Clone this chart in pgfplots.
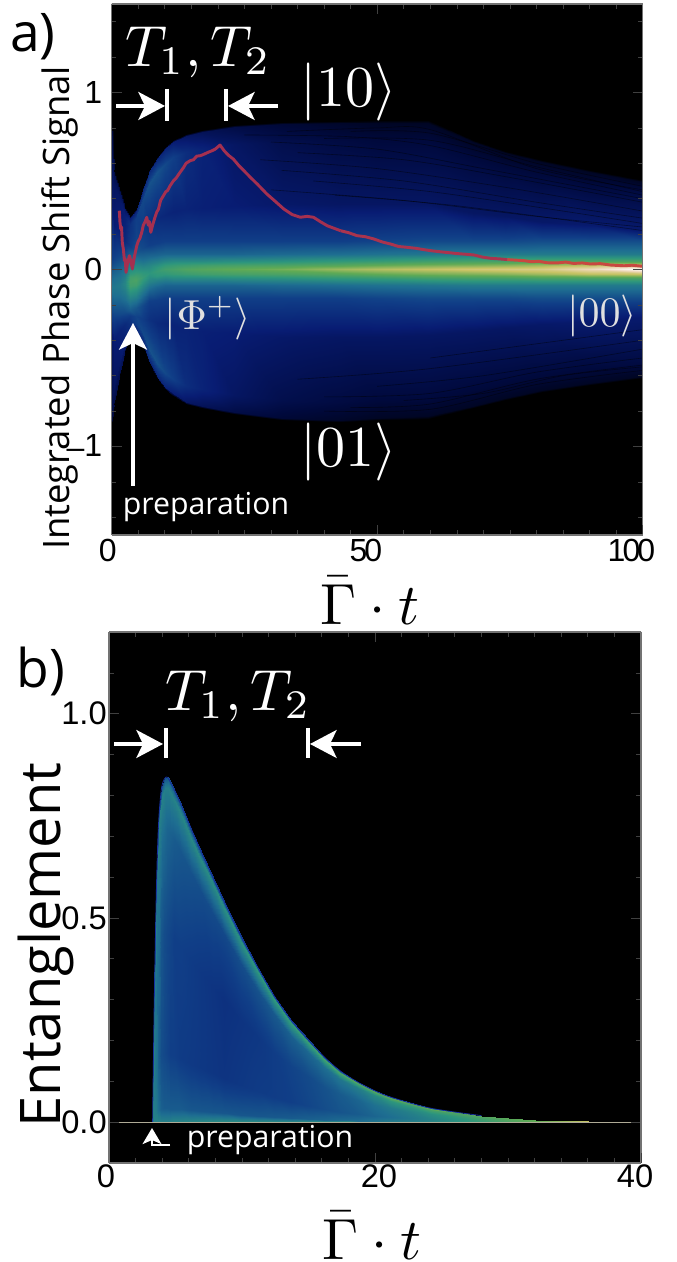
\documentclass[border=0pt]{standalone}
\usepackage[no-math]{fontspec}
\usepackage{pgfplots}
\pgfplotsset{compat=1.18}
\usetikzlibrary{arrows.meta}
\newfontfamily\labfont{Open Sans}
\newfontfamily\tickfont[LetterSpace=-9]{Liberation Sans}
\newfontfamily\tickfontb{Liberation Sans}
\definecolor{redl}{RGB}{165,48,80}
\definecolor{redr}{RGB}{200,72,64}
\pgfplotsset{
  heat/.style={colormap={q}{rgb255(0)=(0,0,0) rgb255(1)=(0,9,60) rgb255(2)=(8,28,115) rgb255(3)=(16,62,135) rgb255(4)=(30,110,145) rgb255(5)=(45,150,125) rgb255(6)=(95,170,85) rgb255(7)=(200,195,100) rgb255(8)=(238,215,185) rgb255(9)=(255,255,255)},
    point meta min=0,point meta max=9},
  common/.style={scale only axis,view={0}{90},axis background/.style={fill=black},
    axis line style={draw=black!55,line width=0.8pt},
    tick style={draw=black!75,line width=0.5pt},
    tick align=inside,
    major tick length=7.5pt,minor tick length=3.5pt,
    /pgf/number format/assume math mode=true,
    enlargelimits=false,heat},
  streak/.style={black,opacity=.45,line width=.45pt,smooth},
}
\begin{document}
\begin{tikzpicture}
\path[use as bounding box] (0,0) rectangle (507.75pt,946.5pt);
\begin{axis}[common,at={(83.775pt,545.25pt)},anchor=south west,width=398.25pt,height=398.25pt,
  xmin=0,xmax=100,ymin=-1.5,ymax=1.5,
  xtick={0,50,100},minor xtick={5,10,...,95},
  xticklabels={\hspace*{11pt}0,50,100},
  ytick={-1,0,1},minor ytick={-1.4,-1.2,-.8,-.6,-.4,-.2,.2,.4,.6,.8,1.2,1.4},
  yticklabels={\raisebox{-1.5pt}{–}1,0,1},
  ticklabel style={font=\fontsize{24}{26}\tickfont},
  xticklabel style={xshift=-8.5pt,inner sep=0pt,yshift=-3pt},
  yticklabel style={inner sep=0pt,xshift=-7pt},
  xlabel={$\bar{\Gamma}\cdot t$},ylabel={Integrated Phase Shift Signal},
  every axis x label/.style={at={(axis description cs:0.486,-0.124)},anchor=center,scale=4.35},
  every axis y label/.style={at={(axis description cs:-0.098,0.4275)},anchor=center,rotate=90,font=\fontsize{27.3}{30}\labfont},
]
\addplot3[surf,shader=interp,mesh/ordering=x varies,mesh/cols=17,point meta=z] table[row sep=\\]{
x y m\\
0 -.862 0\\ 0 -.85 1\\ 0 -.75 1.3\\ 0 -.38 1.8\\ 0 -.26 3\\ 0 -.19 3.6\\ 0 -.15 3.9\\ 0 -.125 4.1\\ 0 -.1 4.2\\ 0 -.075 4.1\\ 0 -.05 3.9\\ 0 -.01 3.6\\ 0 .06 3\\ 0 .38 1.8\\ 0 .75 1.3\\ 0 .85 1\\ 0 .862 0\\
.4 -.762 0\\ .4 -.75 1.2\\ .4 -.66 1.6\\ .4 -.40 2\\ .4 -.26 3.1\\ .4 -.19 3.7\\ .4 -.15 4\\ .4 -.125 4.1\\ .4 -.1 4.2\\ .4 -.075 4.1\\ .4 -.05 4\\ .4 -.01 3.7\\ .4 .06 3.1\\ .4 .25 2\\ .4 .484 1.6\\ .4 .55 1.2\\ .4 .562 0\\
1.5 -.592 0\\ 1.5 -.58 1.4\\ 1.5 -.51 1.8\\ 1.5 -.34 2.2\\ 1.5 -.25 3.2\\ 1.5 -.18 3.8\\ 1.5 -.14 4.1\\ 1.5 -.115 4.2\\ 1.5 -.09 4.3\\ 1.5 -.065 4.2\\ 1.5 -.04 4.1\\ 1.5 0 3.8\\ 1.5 .07 3.2\\ 1.5 .2 2.2\\ 1.5 .387 1.8\\ 1.5 .44 1.4\\ 1.5 .452 0\\
2.5 -.462 0\\ 2.5 -.45 1.6\\ 2.5 -.40 2.1\\ 2.5 -.31 2.4\\ 2.5 -.24 3.3\\ 2.5 -.17 4\\ 2.5 -.13 4.3\\ 2.5 -.105 4.5\\ 2.5 -.08 4.6\\ 2.5 -.055 4.5\\ 2.5 -.03 4.3\\ 2.5 .01 4\\ 2.5 .08 3.3\\ 2.5 .16 2.4\\ 2.5 .30 2.1\\ 2.5 .34 1.6\\ 2.5 .352 0\\
3.5 -.352 0\\ 3.5 -.34 2\\ 3.5 -.30 2.6\\ 3.5 -.26 2.9\\ 3.5 -.23 3.6\\ 3.5 -.16 4.5\\ 3.5 -.12 5\\ 3.5 -.095 5.4\\ 3.5 -.07 5.5\\ 3.5 -.045 5.4\\ 3.5 -.02 5\\ 3.5 .02 4.5\\ 3.5 .09 3.6\\ 3.5 .13 2.9\\ 3.5 .255 2.6\\ 3.5 .29 2\\ 3.5 .302 0\\
4.5 -.352 0\\ 4.5 -.34 2.2\\ 4.5 -.30 3\\ 4.5 -.26 3.1\\ 4.5 -.22 3.5\\ 4.5 -.15 4.5\\ 4.5 -.11 5\\ 4.5 -.085 5.4\\ 4.5 -.06 5.6\\ 4.5 -.035 5.4\\ 4.5 -.01 5\\ 4.5 .03 4.5\\ 4.5 .10 3.5\\ 4.5 .17 3.1\\ 4.5 .29 3\\ 4.5 .33 2.2\\ 4.5 .342 0\\
5.9 -.422 0\\ 5.9 -.41 2.3\\ 5.9 -.36 3.2\\ 5.9 -.28 2.9\\ 5.9 -.20 3.2\\ 5.9 -.13 4.1\\ 5.9 -.09 4.7\\ 5.9 -.065 5\\ 5.9 -.04 5.2\\ 5.9 -.015 5\\ 5.9 .01 4.7\\ 5.9 .05 4.1\\ 5.9 .12 3.2\\ 5.9 .22 2.9\\ 5.9 .40 3.2\\ 5.9 .455 2.3\\ 5.9 .467 0\\
7 -.522 0\\ 7 -.51 2.4\\ 7 -.449 3.4\\ 7 -.28 2.6\\ 7 -.18 3\\ 7 -.11 3.9\\ 7 -.07 4.5\\ 7 -.045 4.8\\ 7 -.02 5\\ 7 .005 4.8\\ 7 .03 4.5\\ 7 .07 3.9\\ 7 .14 3\\ 7 .26 2.6\\ 7 .484 3.4\\ 7 .55 2.4\\ 7 .562 0\\
8.5 -.612 0\\ 8.5 -.60 2.3\\ 8.5 -.528 3.4\\ 8.5 -.30 2.4\\ 8.5 -.17 3\\ 8.5 -.10 3.8\\ 8.5 -.06 4.5\\ 8.5 -.035 5\\ 8.5 -.01 5.2\\ 8.5 .015 5\\ 8.5 .04 4.5\\ 8.5 .08 3.8\\ 8.5 .15 3\\ 8.5 .29 2.4\\ 8.5 .55 3.4\\ 8.5 .625 2.3\\ 8.5 .637 0\\
10 -.677 0\\ 10 -.665 2.2\\ 10 -.585 3.2\\ 10 -.30 2.3\\ 10 -.16 3\\ 10 -.09 3.8\\ 10 -.05 4.6\\ 10 -.025 5.1\\ 10 0 5.4\\ 10 .025 5.1\\ 10 .05 4.6\\ 10 .09 3.8\\ 10 .16 3\\ 10 .31 2.3\\ 10 .598 3.2\\ 10 .68 2.2\\ 10 .692 0\\
11.6 -.712 0\\ 11.6 -.70 2\\ 11.6 -.616 3\\ 11.6 -.315 2.2\\ 11.6 -.16 3\\ 11.6 -.09 3.8\\ 11.6 -.05 4.7\\ 11.6 -.025 5.2\\ 11.6 0 5.5\\ 11.6 .025 5.2\\ 11.6 .05 4.7\\ 11.6 .09 3.8\\ 11.6 .16 3\\ 11.6 .325 2.2\\ 11.6 .634 3\\ 11.6 .72 2\\ 11.6 .732 0\\
14 -.762 0\\ 14 -.75 1.7\\ 14 -.66 2.5\\ 14 -.34 2.2\\ 14 -.16 3\\ 14 -.09 3.8\\ 14 -.05 4.7\\ 14 -.025 5.3\\ 14 0 5.7\\ 14 .025 5.3\\ 14 .05 4.7\\ 14 .09 3.8\\ 14 .16 3\\ 14 .34 2.2\\ 14 .664 2.5\\ 14 .755 1.7\\ 14 .767 0\\
17 -.782 0\\ 17 -.77 1.5\\ 17 -.678 2.2\\ 17 -.35 2.1\\ 17 -.16 3\\ 17 -.09 3.8\\ 17 -.05 4.7\\ 17 -.025 5.4\\ 17 0 5.8\\ 17 .025 5.4\\ 17 .05 4.7\\ 17 .09 3.8\\ 17 .16 3\\ 17 .35 2.1\\ 17 .682 2.2\\ 17 .775 1.5\\ 17 .787 0\\
23 -.817 0\\ 23 -.805 1.2\\ 23 -.708 1.7\\ 23 -.36 2\\ 23 -.16 3\\ 23 -.09 3.8\\ 23 -.05 4.8\\ 23 -.025 5.5\\ 23 0 6\\ 23 .025 5.5\\ 23 .05 4.8\\ 23 .09 3.8\\ 23 .16 3\\ 23 .36 2\\ 23 .708 1.7\\ 23 .805 1.2\\ 23 .817 0\\
32 -.852 0\\ 32 -.84 .9\\ 32 -.739 1.3\\ 32 -.38 1.8\\ 32 -.16 3\\ 32 -.09 3.9\\ 32 -.05 4.9\\ 32 -.025 5.6\\ 32 0 6.2\\ 32 .025 5.6\\ 32 .05 4.9\\ 32 .09 3.9\\ 32 .16 3\\ 32 .37 1.8\\ 32 .722 1.3\\ 32 .82 .9\\ 32 .832 0\\
43 -.862 0\\ 43 -.85 .7\\ 43 -.748 1.1\\ 43 -.38 1.7\\ 43 -.16 3\\ 43 -.09 4\\ 43 -.05 5.1\\ 43 -.025 5.8\\ 43 0 6.6\\ 43 .025 5.8\\ 43 .05 5.1\\ 43 .09 4\\ 43 .16 3\\ 43 .37 1.7\\ 43 .726 1.1\\ 43 .825 .7\\ 43 .837 0\\
50 -.852 0\\ 50 -.84 .6\\ 50 -.739 1\\ 50 -.38 1.7\\ 50 -.16 3.1\\ 50 -.09 4.1\\ 50 -.05 5.2\\ 50 -.025 6\\ 50 0 6.8\\ 50 .025 6\\ 50 .05 5.2\\ 50 .09 4.1\\ 50 .16 3.1\\ 50 .37 1.7\\ 50 .73 1\\ 50 .83 .6\\ 50 .842 0\\
59.5 -.842 0\\ 59.5 -.83 .6\\ 59.5 -.73 1\\ 59.5 -.37 1.7\\ 59.5 -.16 3.2\\ 59.5 -.09 4.2\\ 59.5 -.05 5.4\\ 59.5 -.025 6.2\\ 59.5 0 7\\ 59.5 .025 6.2\\ 59.5 .05 5.4\\ 59.5 .09 4.2\\ 59.5 .16 3.2\\ 59.5 .37 1.7\\ 59.5 .73 1\\ 59.5 .83 .6\\ 59.5 .842 0\\
68 -.782 0\\ 68 -.77 .6\\ 68 -.678 1\\ 68 -.35 1.7\\ 68 -.16 3.2\\ 68 -.09 4.3\\ 68 -.05 5.5\\ 68 -.025 6.3\\ 68 0 7.2\\ 68 .025 6.3\\ 68 .05 5.5\\ 68 .09 4.3\\ 68 .16 3.2\\ 68 .32 1.7\\ 68 .634 1\\ 68 .72 .6\\ 68 .732 0\\
74 -.737 0\\ 74 -.725 .6\\ 74 -.638 1\\ 74 -.33 1.7\\ 74 -.16 3.2\\ 74 -.09 4.3\\ 74 -.05 5.5\\ 74 -.025 6.4\\ 74 0 7.3\\ 74 .025 6.4\\ 74 .05 5.5\\ 74 .09 4.3\\ 74 .16 3.2\\ 74 .30 1.7\\ 74 .58 1\\ 74 .66 .6\\ 74 .672 0\\
81 -.692 0\\ 81 -.68 .6\\ 81 -.598 1\\ 81 -.31 1.8\\ 81 -.16 3.3\\ 81 -.09 4.3\\ 81 -.05 5.6\\ 81 -.025 6.6\\ 81 0 7.4\\ 81 .025 6.6\\ 81 .05 5.6\\ 81 .09 4.3\\ 81 .16 3.3\\ 81 .27 1.8\\ 81 .532 1\\ 81 .605 .6\\ 81 .617 0\\
90 -.652 0\\ 90 -.64 .6\\ 90 -.563 1\\ 90 -.29 1.9\\ 90 -.16 3.3\\ 90 -.09 4.3\\ 90 -.05 5.6\\ 90 -.025 6.9\\ 90 0 8\\ 90 .025 6.9\\ 90 .05 5.6\\ 90 .09 4.3\\ 90 .16 3.3\\ 90 .25 1.9\\ 90 .484 1\\ 90 .55 .6\\ 90 .562 0\\
100 -.612 0\\ 100 -.60 .6\\ 100 -.528 1.1\\ 100 -.27 1.9\\ 100 -.16 3.3\\ 100 -.09 4.3\\ 100 -.05 5.6\\ 100 -.025 7\\ 100 0 9\\ 100 .025 7\\ 100 .05 5.6\\ 100 .09 4.3\\ 100 .16 3.3\\ 100 .22 1.9\\ 100 .436 1.1\\ 100 .495 .6\\ 100 .507 0\\
};
\addplot3[streak] coordinates {(30,.72,0)(50,.68,0)(70,.57,0)(100,.40,0)};
\addplot3[streak] coordinates {(35,.66,0)(55,.62,0)(75,.52,0)(100,.38,0)};
\addplot3[streak] coordinates {(28,.62,0)(50,.57,0)(75,.46,0)(100,.33,0)};
\addplot3[streak] coordinates {(40,.74,0)(60,.73,0)(80,.58,0)(100,.44,0)};
\addplot3[streak] coordinates {(45,.78,0)(60,.77,0)(80,.60,0)(100,.47,0)};
\addplot3[streak] coordinates {(32,.56,0)(55,.50,0)(80,.38,0)(100,.29,0)};
\addplot3[streak] coordinates {(38,.50,0)(60,.44,0)(85,.33,0)(100,.26,0)};
\addplot3[streak] coordinates {(42,.42,0)(65,.36,0)(100,.22,0)};
\addplot3[streak] coordinates {(25,.76,0)(45,.75,0)(60,.70,0)(80,.55,0)(100,.42,0)};
\addplot3[streak] coordinates {(33,.78,0)(50,.80,0)(60,.79,0)(80,.57,0)(100,.45,0)};
\addplot3[streak] coordinates {(30,.45,0)(55,.39,0)(80,.30,0)(100,.24,0)};
\addplot3[streak] coordinates {(45,-.78,0)(60,-.76,0)(80,-.62,0)(100,-.54,0)};
\addplot3[streak] coordinates {(40,-.72,0)(60,-.70,0)(80,-.58,0)(100,-.50,0)};
\addplot3[streak] coordinates {(50,-.66,0)(70,-.60,0)(100,-.45,0)};
\addplot3[streak] coordinates {(35,-.62,0)(60,-.56,0)(100,-.40,0)};
\addplot3[streak] coordinates {(60,-.50,0)(100,-.34,0)};
\addplot3[streak] coordinates {(55,-.74,0)(70,-.70,0)(85,-.60,0)(100,-.55,0)};
\addplot3[streak] coordinates {(40,-.80,0)(60,-.79,0)(80,-.65,0)(100,-.57,0)};
\addplot3[redl,line width=2.2pt,line join=round] coordinates {
(1.44,.332,0)(1.55,.27,0)(1.70,.229,0)(1.85,.24,0)(2.0,.15,0)(2.19,.116,0)(2.4,.05,0)(2.55,.06,0)(2.70,-.016,0)(2.95,.03,0)(3.33,.078,0)(3.6,.05,0)(3.89,.003,0)(4.2,.06,0)(4.4,.09,0)(4.72,.134,0)(5.0,.16,0)(5.3,.175,0)(5.66,.21,0)(5.95,.25,0)(6.3,.27,0)(6.6,.295,0)(6.9,.25,0)(7.1,.27,0)(7.36,.21,0)(7.7,.25,0)(8.1,.29,0)(8.49,.325,0)(8.8,.34,0)(9.2,.39,0)(9.74,.417,0)(10.2,.44,0)(10.5,.445,0)(11,.473,0)(11.6,.50,0)(12.1,.515,0)(12.9,.55,0)(13.5,.575,0)(14,.60,0)(14.8,.615,0)(15.4,.62,0)(16,.64,0)(16.7,.643,0)(17.3,.65,0)(18,.66,0)(18.9,.671,0)(19.5,.68,0)(20.4,.703,0)(21.2,.67,0)(22,.645,0)(22.9,.624,0)(24,.585,0)(25,.555,0)(26.1,.521,0)(27.5,.48,0)(29.2,.427,0)(30.8,.385,0)(32.4,.342,0)(34,.31,0)(35.5,.295,0)(36.8,.30,0)(38,.295,0)(39.3,.27,0)(40.6,.247,0)(43.1,.219,0)
};
\addplot3[redl!85!redr,line width=2.2pt,line join=round] coordinates {
(43.1,.219,0)(44.6,.208,0)(46.2,.191,0)(47.8,.185,0)(49.4,.172,0)(51,.155,0)(52.5,.144,0)(54,.13,0)(55.7,.125,0)(57.2,.12,0)(58.8,.112,0)(60.4,.105,0)(61.9,.10,0)(63.5,.095,0)(65,.09,0)(66.7,.086,0)(68.2,.082,0)(69.8,.07,0)(71.4,.063,0)(73,.06,0)(74.5,.056,0)
};
\addplot3[redr,line width=2.2pt,line join=round] coordinates {
(74.5,.056,0)(76,.053,0)(77.6,.05,0)(79,.044,0)(80.5,.046,0)(82,.038,0)(84,.037,0)(85.5,.042,0)(87,.034,0)(88.6,.037,0)(90.2,.031,0)(92,.033,0)(94,.025,0)(96.5,.021,0)(98,.024,0)(100,.018,0)
};
\end{axis}
\begin{axis}[common,at={(81.75pt,74.25pt)},anchor=south west,width=399pt,height=398.25pt,
  xmin=0,xmax=40,ymin=-.1,ymax=1.2,
  xtick={0,20,40},minor xtick={2,4,...,38},
  ytick={0,.5,1},minor ytick={.1,.2,.3,.4,.6,.7,.8,.9,1.1},
  xticklabels={0\hspace*{4.5pt},\hspace*{6pt}20,40\hspace*{9pt}},
  yticklabels={0.0,0.5,1.0},
  ticklabel style={font=\fontsize{24.5}{26}\tickfontb},
  xticklabel style={inner sep=0pt,yshift=-1pt},
  yticklabel style={inner sep=0pt,xshift=-1.5pt},
  xlabel={$\bar{\Gamma}\cdot t$},ylabel={Entanglement},
  every axis x label/.style={at={(axis description cs:0.495,-0.137)},anchor=center,scale=4.35},
  every axis y label/.style={at={(axis description cs:-0.118,0.4105)},anchor=center,rotate=90,font=\fontsize{42}{45}\labfont},
]
\addplot3[surf,shader=interp,mesh/ordering=x varies,mesh/cols=7,point meta=z] table[row sep=\\]{
x y m\\
3.28 0 4\\ 3.281 .0024 4.5\\ 3.284 .012 4.5\\ 3.291 .033 4.5\\ 3.297 .051 4.5\\ 3.299 .058 4.5\\ 3.30 .06 3\\
3.32 0 4.5\\ 3.324 .012 4.6\\ 3.338 .062 4.5\\ 3.37 .17 4.5\\ 3.397 .264 4.5\\ 3.407 .301 4.6\\ 3.41 .31 3.5\\
3.4 0 4.5\\ 3.41 .022 4.4\\ 3.43 .11 4.2\\ 3.49 .303 4.2\\ 3.53 .468 4.4\\ 3.545 .534 4.6\\ 3.55 .55 3.5\\
3.55 0 4.5\\ 3.555 .027 4.3\\ 3.575 .136 4\\ 3.61 .374 4\\ 3.64 .578 4.2\\ 3.655 .66 4.5\\ 3.66 .68 3.5\\
3.7 0 4.5\\ 3.703 .03 4\\ 3.716 .152 3.7\\ 3.744 .418 3.9\\ 3.768 .646 4.3\\ 3.778 .737 4.5\\ 3.78 .76 3.5\\
3.9 0 4.5\\ 3.902 .033 3.7\\ 3.912 .164 3.3\\ 3.933 .451 3.5\\ 3.951 .697 4\\ 3.958 .795 4.5\\ 3.96 .82 3.5\\
4.1 0 4.5\\ 4.104 .034 3.6\\ 4.12 .168 3.2\\ 4.155 .463 3.3\\ 4.185 .716 3.9\\ 4.197 .817 4.4\\ 4.2 .842 3.5\\
4.35 0 4.5\\ 4.352 .034 3.6\\ 4.36 .169 3.1\\ 4.378 .464 3.2\\ 4.393 .717 3.8\\ 4.399 .819 4.4\\ 4.4 .844 3.5\\
4.6 0 4.5\\ 4.602 .033 3.6\\ 4.61 .166 3\\ 4.628 .457 3.1\\ 4.643 .706 3.7\\ 4.649 .805 4.5\\ 4.65 .83 3.4\\
4.85 0 4.6\\ 4.852 .033 3.6\\ 4.86 .163 3\\ 4.878 .448 3\\ 4.893 .693 3.6\\ 4.899 .791 4.5\\ 4.9 .815 3.3\\
5.35 0 4.6\\ 5.352 .031 3.6\\ 5.362 .156 2.9\\ 5.383 .428 3\\ 5.401 .661 3.5\\ 5.408 .755 4.6\\ 5.41 .778 3.2\\
6.2 0 4.65\\ 6.2 .029 3.5\\ 6.2 .143 2.85\\ 6.2 .394 2.9\\ 6.2 .609 3.4\\ 6.2 .695 4.65\\ 6.2 .717 3.1\\
6.92 0 4.7\\ 6.92 .027 3.5\\ 6.92 .133 2.8\\ 6.92 .365 2.8\\ 6.92 .564 3.3\\ 6.92 .643 4.7\\ 6.92 .663 3\\
7.8 0 4.75\\ 7.8 .024 3.5\\ 7.8 .12 2.75\\ 7.8 .33 2.7\\ 7.8 .51 3.25\\ 7.8 .582 4.75\\ 7.8 .60 3\\
8.65 0 4.8\\ 8.65 .022 3.5\\ 8.65 .108 2.7\\ 8.65 .298 2.6\\ 8.65 .46 3.2\\ 8.65 .525 4.8\\ 8.65 .541 3\\
9.9 0 4.8\\ 9.9 .018 3.5\\ 9.9 .091 2.8\\ 9.9 .251 2.7\\ 9.9 .388 3.3\\ 9.9 .442 4.9\\ 9.9 .456 3\\
11.2 0 4.8\\ 11.2 .015 3.5\\ 11.2 .076 2.9\\ 11.2 .208 2.8\\ 11.2 .321 3.4\\ 11.2 .367 5\\ 11.2 .378 3\\
12.4 0 4.8\\ 12.4 .012 3.55\\ 12.4 .062 2.95\\ 12.4 .17 2.95\\ 12.4 .264 3.55\\ 12.4 .301 5.1\\ 12.4 .31 3\\
13.7 0 4.8\\ 13.7 .01 3.6\\ 13.7 .05 3\\ 13.7 .137 3.1\\ 13.7 .212 3.7\\ 13.7 .242 5.2\\ 13.7 .249 3\\
15 0 4.9\\ 15 .008 3.7\\ 15 .04 3.15\\ 15 .11 3.25\\ 15 .17 3.85\\ 15 .194 5.35\\ 15 .2 3.1\\
16.2 0 5\\ 16.2 .006 3.8\\ 16.2 .032 3.3\\ 16.2 .087 3.4\\ 16.2 .135 4\\ 16.2 .154 5.5\\ 16.2 .159 3.2\\
17.4 0 5.1\\ 17.4 .005 3.9\\ 17.4 .025 3.45\\ 17.4 .069 3.6\\ 17.4 .106 4.2\\ 17.4 .121 5.65\\ 17.4 .125 3.3\\
18.7 0 5.2\\ 18.7 .004 4\\ 18.7 .02 3.6\\ 18.7 .054 3.8\\ 18.7 .083 4.4\\ 18.7 .095 5.8\\ 18.7 .098 3.5\\
19.9 0 5.3\\ 19.9 .003 4.15\\ 19.9 .016 3.8\\ 19.9 .043 4.05\\ 19.9 .066 4.7\\ 19.9 .076 5.9\\ 19.9 .078 3.6\\
21.2 0 5.4\\ 21.2 .002 4.3\\ 21.2 .012 4\\ 21.2 .034 4.3\\ 21.2 .052 5\\ 21.2 .059 6\\ 21.2 .061 3.8\\
24.2 0 5.6\\ 24.2 .001 4.6\\ 24.2 .007 4.5\\ 24.2 .019 4.8\\ 24.2 .029 5.5\\ 24.2 .033 6.1\\ 24.2 .034 4\\
28 0 6\\ 28 .0006 5.2\\ 28 .003 5.2\\ 28 .009 5.5\\ 28 .014 5.8\\ 28 .0155 6.2\\ 28 .016 4.5\\
32 0 6.5\\ 32 .0002 6\\ 32 .001 6\\ 32 .003 6\\ 32 .005 6\\ 32 .0058 6.2\\ 32 .006 5\\
36 0 7.3\\ 36 .0001 7\\ 36 .0004 7\\ 36 .0011 7\\ 36 .0017 7\\ 36 .0019 7\\ 36 .002 6\\
40 0 7.5\\ 40 .00002 7\\ 40 .0001 7\\ 40 .0003 7\\ 40 .0004 7\\ 40 .00045 7\\ 40 .0005 6\\
};
\addplot3[color={rgb,255:red,22;green,48;blue,160},line width=.6pt,smooth] coordinates {
(3.28,0,0)(3.30,.06,0)(3.41,.31,0)(3.55,.55,0)(3.66,.68,0)(3.78,.76,0)(3.96,.82,0)(4.2,.842,0)(4.4,.844,0)(4.65,.83,0)(4.9,.815,0)(5.41,.778,0)(6.2,.717,0)(6.92,.663,0)(7.8,.60,0)(8.65,.541,0)(9.9,.456,0)(11.2,.378,0)(12.4,.31,0)(13.7,.249,0)(15,.2,0)(16.2,.159,0)(17.4,.125,0)(18.7,.098,0)(19.9,.078,0)(21.2,.061,0)(24.2,.034,0)(28,.016,0)
};
\addplot3[color={rgb,255:red,175;green,170;blue,150},line width=.8pt] coordinates {(0,0,0)(40,0,0)};
\end{axis}
\begin{scope}[x=.75pt,y=-.75pt,shift={(0,946.5pt)}]
\tikzset{whitearrow/.style={draw=white,line width=2.4pt,-{Stealth[length=20pt,width=21pt,inset=5pt]}},
  bar/.style={draw=white,line width=2.4pt},
  big/.style={text=white,inner sep=0pt,scale=4.35},
  mid/.style={text=white!88!black,inner sep=0pt,scale=3.15},
  prep/.style={text=white,inner sep=0pt,font=\fontsize{22.7}{26}\labfont}}
\node[inner sep=0pt,font=\fontsize{40}{44}\labfont] at (33,37) {a)};
\node[big] at (198,52) {$T_1,T_2$};
\draw[whitearrow] (116,106)--(165,106);
\draw[bar] (167,89)--(167,121);
\draw[bar] (226,89)--(226,121);
\draw[whitearrow] (278,106)--(228,106);
\node[big] at (349,92) {$|10\rangle$};
\node[big] at (349,452) {$|01\rangle$};
\node[mid] at (208,318) {$|\Phi^{+}\rangle$};
\node[mid] at (602,316) {$|00\rangle$};
\draw[whitearrow] (133,486)--(133,323);
\node[prep] at (206,507) {preparation};
\node[inner sep=0pt,font=\fontsize{40}{44}\labfont] at (41,671) {b)};
\node[big] at (238,696) {$T_1,T_2$};
\draw[whitearrow] (114,744)--(163,744);
\draw[bar] (166,728)--(166,758);
\draw[bar] (308,728)--(308,758);
\draw[whitearrow] (361,744)--(310,744);
\draw[draw=white,line width=2.2pt,-{Stealth[length=12pt,width=14pt,inset=3pt]}] (170,1145)--(152,1145)--(152,1128);
\node[prep] at (270,1140) {preparation};
\end{scope}
\end{tikzpicture}
\end{document}
